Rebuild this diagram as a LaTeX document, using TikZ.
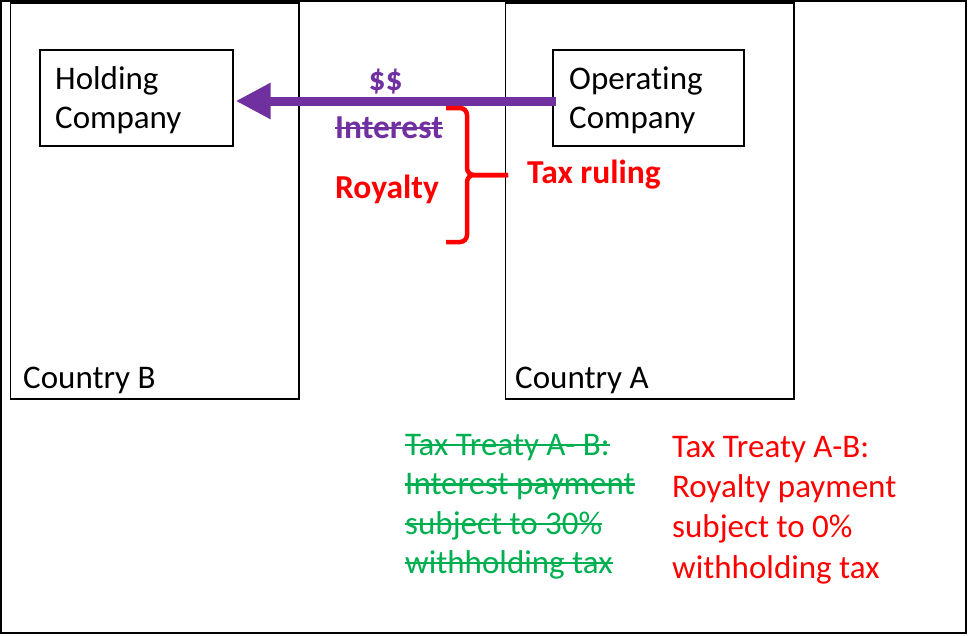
\documentclass[tikz,border=0pt]{standalone}
\usepackage{fontspec}
\setmainfont{Carlito}[Ligatures=NoCommon]
\usetikzlibrary{arrows.meta}
\definecolor{ppurple}{HTML}{7030A0}
\definecolor{pred}{HTML}{FF0000}
\definecolor{pgreen}{HTML}{00B050}
\newsavebox\stkbox
\newcommand\stk[1]{\sbox\stkbox{#1}\rlap{\rule[0.27em]{\wd\stkbox}{0.065em}}\usebox\stkbox}
\begin{document}
\begin{tikzpicture}[x=1pt,y=-1pt,
  frame/.style={draw=black,line width=2pt},
  country/.style={draw=black,line width=1.3pt},
  cbox/.style={draw=black,line width=1.3pt},
  txt/.style={inner sep=0pt,anchor=base west,font=\fontsize{33}{39}\selectfont},
  btxt/.style={txt,font=\fontsize{33.5}{39}\selectfont\bfseries},
  payarrow/.style={draw=ppurple,line width=9pt,-{Triangle[length=35pt,width=34pt]}},
  brace/.style={draw=pred,line width=4.5pt,rounded corners=7pt}]
\useasboundingbox (0,0) rectangle (968,635);
\draw[frame] (1,1) rectangle (966,633);
% countries
\draw[country] (10.5,3) rectangle (299,399);
\draw[country] (505.5,3) rectangle (794,399);
\node[txt] (cb) at (23,388) {Country B};
\node[txt] (ca) at (515,388) {Country A};
% companies
\node[cbox,minimum width=193pt,minimum height=96pt,inner sep=0pt] (hold) at (136.5,98) {};
\node[cbox,minimum width=191pt,minimum height=96pt,inner sep=0pt] (op) at (648.5,98) {};
\node[txt] (hold1) at (55,89) {Holding};
\node[txt] (hold2) at (55,128) {Company};
\node[txt] (op1) at (569,89) {Operating};
\node[txt] (op2) at (569,128) {Company};
% payment arrow
\draw[payarrow] ([shift={(4,3)}]op.west) -- ([shift={(2,3)}]hold.east);
\node[btxt,text=ppurple,anchor=base] (dollars) at (385.5,90) {\$\$};
\node[btxt,text=ppurple] (interest) at (335,138) {\stk{Interest}};
\node[btxt,text=pred] (royalty) at (335,198) {Royalty};
% brace
\coordinate (bt) at (446,108);
\coordinate (bb) at (446,242);
\coordinate (bm) at (467,175);
\coordinate (bp) at (508,175);
\draw[brace] (bt) -| (bm) -- (bp);
\draw[brace] (bb) -| (bm) -- (bp);
\node[btxt,text=pred] (ruling) at (527,183) {Tax ruling};
% old treaty (struck)
\begin{scope}[every node/.append style={txt,text=pgreen}]
\node (g1) at (405,455) {\stk{Tax Treaty A- B:}};
\node (g2) at (405,494.5) {\stk{Interest payment}};
\node (g3) at (405,534) {\stk{subject to 30\%}};
\node (g4) at (405,573) {\stk{withholding tax}};
\end{scope}
% new treaty
\begin{scope}[every node/.append style={txt,text=pred}]
\node (r1) at (672,457) {Tax Treaty A-B:};
\node (r2) at (672,497) {Royalty payment};
\node (r3) at (672,537.5) {subject to 0\%};
\node (r4) at (672,578) {withholding tax};
\end{scope}
\end{tikzpicture}
\end{document}
